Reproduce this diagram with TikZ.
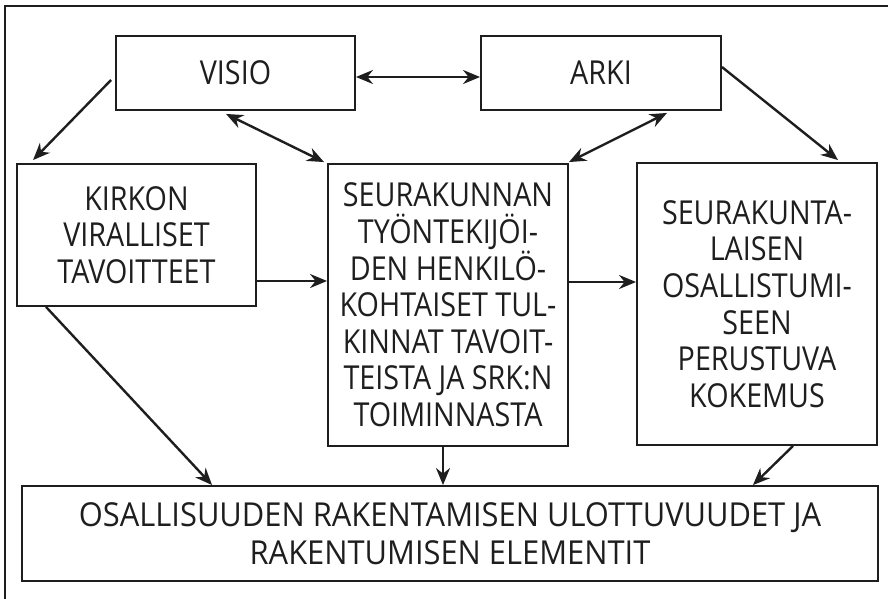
\documentclass[tikz,border=0pt]{standalone}
\usepackage{fontspec}
\setmainfont[FakeStretch=0.87]{Open Sans}
\newfontfamily\widefont[FakeStretch=0.935]{Open Sans}
\usetikzlibrary{arrows.meta,calc}
\definecolor{ink}{HTML}{1E1E1E}
\tikzset{
  box/.style={draw=ink, line width=1.9pt, text=ink, align=center, inner sep=0pt,
    font=\fontsize{33}{36.6}\selectfont},
  conn/.style={draw=ink, line width=2.4pt, -{Stealth[length=17pt,width=14pt]}},
  dbl/.style={draw=ink, line width=2.4pt, {Stealth[length=17pt,width=14pt]}-{Stealth[length=17pt,width=14pt]}},
}
\begin{document}
\begin{tikzpicture}[x=1pt,y=-1pt]
\useasboundingbox (0,0) rectangle (888,599);
\draw[ink, line width=2.2pt] (5,599) -- (5,6) -- (888,6);
\node[box, minimum width=239pt, minimum height=74pt] (visio) at (235.5,73) {VISIO};
\node[box, minimum width=240pt, minimum height=74pt] (arki) at (601,73) {ARKI};
\node[box, minimum width=239pt, minimum height=142pt] (kirkon) at (136.5,235) {KIRKON\\VIRALLISET\\TAVOITTEET};
\node[box, minimum width=240pt, minimum height=282pt] (seura) at (448,305) {SEURAKUNNAN\\TYÖNTEKIJÖI-\\DEN HENKILÖ-\\KOHTAISET TUL-\\KINNAT TAVOIT-\\TEISTA JA SRK:N\\TOIMINNASTA};
\node[box, minimum width=240pt, minimum height=282pt] (oma) at (757,304) {SEURAKUNTA-\\LAISEN\\OSALLISTUMI-\\SEEN\\PERUSTUVA\\KOKEMUS};
\node[box, minimum width=856pt, minimum height=95pt, font=\widefont\fontsize{33}{37.5}\selectfont] (bottom) at (450,533.5) {OSALLISUUDEN RAKENTAMISEN ULOTTUVUUDET JA\\RAKENTUMISEN ELEMENTIT};

\draw[dbl] ([yshift=-4pt]visio.east) -- ([yshift=-4pt]arki.west);
\draw[conn] ([xshift=-4pt,yshift=-7pt]visio.west) -- ([xshift=17pt,yshift=3pt]kirkon.north west);
\draw[dbl] ([xshift=-9.5pt,yshift=-3pt]visio.south) -- ([xshift=-3pt,yshift=1pt]seura.north west);
\draw[dbl] ([xshift=66pt,yshift=-2pt]arki.south) -- ([yshift=1pt]seura.north east);
\draw[conn] ([yshift=6pt]arki.east) -- ([xshift=81pt,yshift=2pt]oma.north);
\draw[conn] ([yshift=-46pt]kirkon.east) -- ([yshift=-46pt]kirkon.east -| seura.west);
\draw[conn] ([yshift=23pt]seura.east) -- ([yshift=23pt]seura.east -| oma.west);
\draw[conn] ([xshift=30pt]kirkon.south west) -- ([xshift=191pt]bottom.north west);
\draw[conn] ([xshift=-5pt]seura.south) -- ([xshift=-5pt]seura.south |- bottom.north);
\draw[conn] ([xshift=36pt]oma.south) -- ([xshift=-126pt]bottom.north east);
\end{tikzpicture}
\end{document}
